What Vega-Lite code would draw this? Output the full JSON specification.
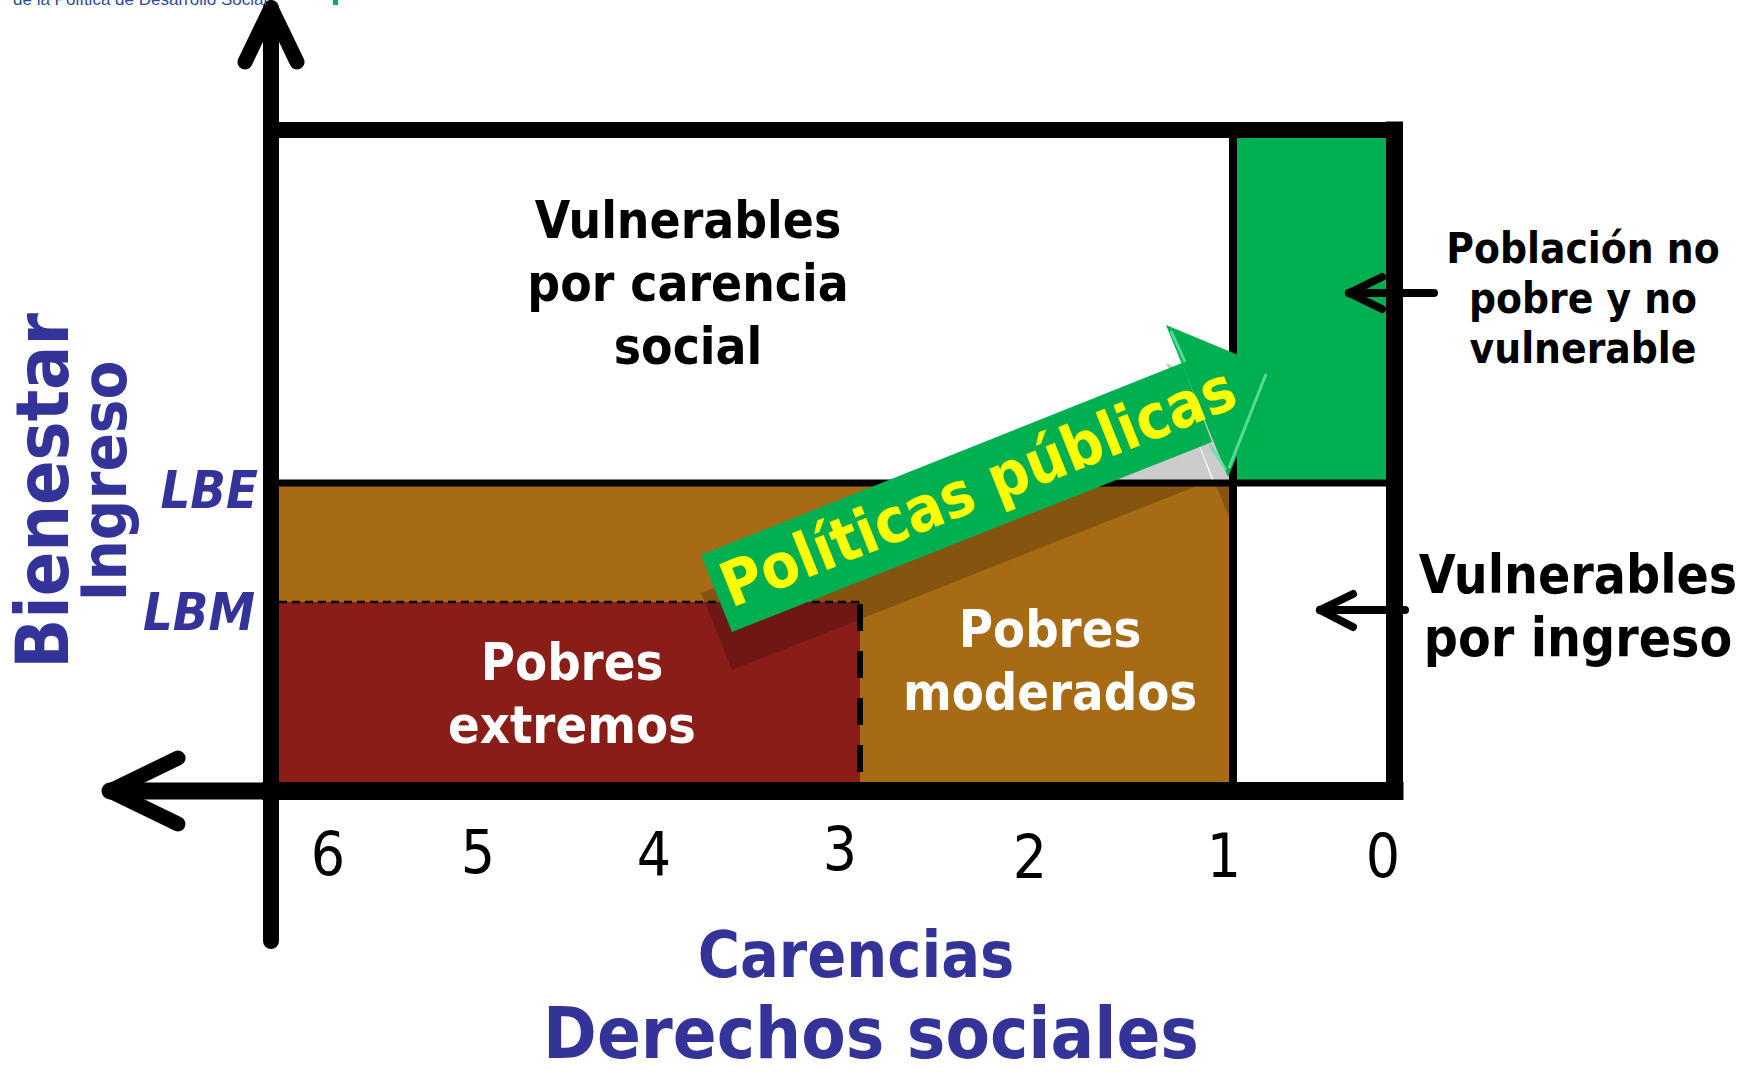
{
  "$schema": "https://vega.github.io/schema/vega-lite/v6.json",
  "width": 1757,
  "height": 1073,
  "autosize": {"type": "none"},
  "padding": 0,
  "background": "white",
  "config": {"view": {"stroke": null}},
  "encoding": {
    "x": {"field": "x", "type": "quantitative", "scale": {"domain": [0, 1757], "nice": false, "zero": false}, "axis": null},
    "y": {"field": "y", "type": "quantitative", "scale": {"domain": [0, 1073], "reverse": true, "nice": false, "zero": false}, "axis": null}
  },
  "layer": [
    {
      "data": {"values": [
        {"region": "Pobres moderados", "x": 271, "x2": 1233, "y": 483, "y2": 791, "fill": "#A76B15"},
        {"region": "Pobres extremos", "x": 271, "x2": 860, "y": 602, "y2": 791, "fill": "#8B1D19"}
      ]},
      "mark": {"type": "rect"},
      "encoding": {
        "x2": {"field": "x2"}, "y2": {"field": "y2"},
        "color": {"field": "fill", "type": "nominal", "scale": null}
      }
    },
    {
      "data": {"values": [
        {"part": "shaft", "x": 701, "y": 593, "y2": 593},
        {"part": "shaft", "x": 732, "y": 580.6, "y2": 670},
        {"part": "shaft", "x": 1182, "y": 401, "y2": 491.9},
        {"part": "shaft", "x": 1212, "y": 480, "y2": 480},
        {"part": "head", "x": 1166, "y": 363, "y2": 363},
        {"part": "head", "x": 1228, "y": 388.8, "y2": 515},
        {"part": "head", "x": 1274, "y": 408, "y2": 408}
      ]},
      "mark": {"type": "area", "color": "black", "opacity": 0.2},
      "encoding": {"y2": {"field": "y2"}, "detail": {"field": "part"}}
    },
    {
      "data": {"values": [
        {"region": "Población no pobre y no vulnerable", "x": 1233, "x2": 1394.5, "y": 130, "y2": 483, "fill": "#00B050"},
        {"region": "Vulnerables por ingreso", "x": 1233, "x2": 1394.5, "y": 483, "y2": 791, "fill": "#FFFFFF"}
      ]},
      "mark": {"type": "rect"},
      "encoding": {
        "x2": {"field": "x2"}, "y2": {"field": "y2"},
        "color": {"field": "fill", "type": "nominal", "scale": null}
      }
    },
    {
      "data": {"values": [
        {"seg": "top", "x": 271, "y": 130, "x2": 1394.5, "y2": 130, "w": 16},
        {"seg": "bottom", "x": 271, "y": 791, "x2": 1394.5, "y2": 791, "w": 18},
        {"seg": "right", "x": 1394.5, "y": 130, "x2": 1394.5, "y2": 791, "w": 17}
      ]},
      "mark": {"type": "rule", "color": "black", "strokeCap": "square"},
      "encoding": {
        "x2": {"field": "x2"}, "y2": {"field": "y2"},
        "strokeWidth": {"field": "w", "type": "quantitative", "scale": null}
      }
    },
    {
      "data": {"values": [
        {"seg": "divider", "x": 1233, "y": 130, "x2": 1233, "y2": 791, "w": 8},
        {"seg": "LBE", "x": 271, "y": 483, "x2": 1394.5, "y2": 483, "w": 7}
      ]},
      "mark": {"type": "rule", "color": "black", "strokeCap": "butt"},
      "encoding": {
        "x2": {"field": "x2"}, "y2": {"field": "y2"},
        "strokeWidth": {"field": "w", "type": "quantitative", "scale": null}
      }
    },
    {
      "data": {"values": [
        {"seg": "yaxis", "x": 271, "y": 8, "x2": 271, "y2": 941, "w": 16},
        {"seg": "ywing1", "x": 271, "y": 8, "x2": 245, "y2": 62, "w": 15},
        {"seg": "ywing2", "x": 271, "y": 8, "x2": 297, "y2": 62, "w": 15},
        {"seg": "xaxis", "x": 110, "y": 791, "x2": 271, "y2": 791, "w": 17},
        {"seg": "xwing1", "x": 110, "y": 791, "x2": 178, "y2": 758, "w": 15},
        {"seg": "xwing2", "x": 110, "y": 791, "x2": 178, "y2": 824, "w": 15},
        {"seg": "a1", "x": 1349, "y": 293, "x2": 1434, "y2": 293, "w": 8},
        {"seg": "a1w1", "x": 1349, "y": 293, "x2": 1382, "y2": 277, "w": 8},
        {"seg": "a1w2", "x": 1349, "y": 293, "x2": 1382, "y2": 309, "w": 8},
        {"seg": "a2", "x": 1320, "y": 610, "x2": 1405, "y2": 610, "w": 8},
        {"seg": "a2w1", "x": 1320, "y": 610, "x2": 1353, "y2": 594, "w": 8},
        {"seg": "a2w2", "x": 1320, "y": 610, "x2": 1353, "y2": 627, "w": 8}
      ]},
      "mark": {"type": "rule", "color": "black", "strokeCap": "round"},
      "encoding": {
        "x2": {"field": "x2"}, "y2": {"field": "y2"},
        "strokeWidth": {"field": "w", "type": "quantitative", "scale": null}
      }
    },
    {
      "data": {"values": [{"seg": "LBM", "x": 279, "y": 602, "x2": 860, "y2": 602}]},
      "mark": {"type": "rule", "color": "black", "strokeWidth": 2.5, "strokeDash": [8, 5]},
      "encoding": {"x2": {"field": "x2"}, "y2": {"field": "y2"}}
    },
    {
      "data": {"values": [{"seg": "3 carencias", "x": 860, "y": 604, "x2": 860, "y2": 782}]},
      "mark": {"type": "rule", "color": "black", "strokeWidth": 6, "strokeDash": [27, 20]},
      "encoding": {"x2": {"field": "x2"}, "y2": {"field": "y2"}}
    },
    {
      "data": {"values": [
        {"part": "shaft", "x": 701, "y": 555, "y2": 555},
        {"part": "shaft", "x": 732, "y": 542.6, "y2": 632},
        {"part": "shaft", "x": 1182, "y": 363, "y2": 453.9},
        {"part": "shaft", "x": 1212, "y": 442, "y2": 442},
        {"part": "head", "x": 1166, "y": 325, "y2": 325},
        {"part": "head", "x": 1228, "y": 350.8, "y2": 477},
        {"part": "head", "x": 1274, "y": 370, "y2": 370}
      ]},
      "mark": {"type": "area", "color": "#00B050", "opacity": 1},
      "encoding": {"y2": {"field": "y2"}, "detail": {"field": "part"}}
    },
    {
      "data": {"values": [
        {"seg": "bevel1", "x": 1171, "y": 331, "x2": 1185, "y2": 362},
        {"seg": "bevel2", "x": 1266, "y": 374, "x2": 1229, "y2": 468},
        {"seg": "bevel3", "x": 1210, "y": 445, "x2": 1226, "y2": 470}
      ]},
      "mark": {"type": "rule", "color": "#66E0A3", "strokeWidth": 3, "opacity": 0.85},
      "encoding": {"x2": {"field": "x2"}, "y2": {"field": "y2"}}
    },
    {
      "data": {"values": [{"label": "Políticas públicas", "x": 979, "y": 489}]},
      "mark": {"type": "text", "font": "DejaVu Sans Condensed", "fontWeight": "bold", "fontSize": 62, "color": "#FFFF00", "angle": 338.3, "align": "center", "baseline": "middle"},
      "encoding": {"text": {"field": "label"}}
    },
    {
      "data": {"values": [
        {"label": "Vulnerables\npor carencia\nsocial", "x": 688, "y": 238, "fs": 51, "c": "#000000"},
        {"label": "Pobres\nextremos", "x": 572, "y": 680, "fs": 52, "c": "#FFFFFF"},
        {"label": "Pobres\nmoderados", "x": 1050, "y": 647, "fs": 52, "c": "#FFFFFF"},
        {"label": "Vulnerables\npor ingreso", "x": 1578, "y": 593, "fs": 53, "c": "#000000"}
      ]},
      "mark": {"type": "text", "font": "DejaVu Sans Condensed", "fontWeight": "bold", "align": "center", "baseline": "alphabetic", "lineBreak": "\n", "lineHeight": 63},
      "encoding": {
        "text": {"field": "label"},
        "size": {"field": "fs", "type": "quantitative", "scale": null},
        "color": {"field": "c", "type": "nominal", "scale": null}
      }
    },
    {
      "data": {"values": [{"label": "Población no\npobre y no\nvulnerable", "x": 1583, "y": 263}]},
      "mark": {"type": "text", "font": "DejaVu Sans Condensed", "fontWeight": "bold", "fontSize": 42, "color": "black", "align": "center", "baseline": "alphabetic", "lineBreak": "\n", "lineHeight": 50},
      "encoding": {"text": {"field": "label"}}
    },
    {
      "data": {"values": [
        {"label": "LBE", "x": 258, "y": 508},
        {"label": "LBM", "x": 255, "y": 630}
      ]},
      "mark": {"type": "text", "font": "DejaVu Sans Condensed", "fontWeight": "bold", "fontStyle": "italic", "fontSize": 52, "color": "#333399", "align": "right", "baseline": "alphabetic"},
      "encoding": {"text": {"field": "label"}}
    },
    {
      "data": {"values": [
        {"label": "Bienestar", "x": 68, "y": 491, "fs": 73},
        {"label": "Ingreso", "x": 126, "y": 481, "fs": 63}
      ]},
      "mark": {"type": "text", "font": "DejaVu Sans Condensed", "fontWeight": "bold", "color": "#333399", "angle": 270, "align": "center", "baseline": "alphabetic"},
      "encoding": {
        "text": {"field": "label"},
        "size": {"field": "fs", "type": "quantitative", "scale": null}
      }
    },
    {
      "data": {"values": [
        {"label": "Carencias", "x": 856, "y": 977, "fs": 64},
        {"label": "Derechos sociales", "x": 871, "y": 1058, "fs": 72}
      ]},
      "mark": {"type": "text", "font": "DejaVu Sans Condensed", "fontWeight": "bold", "color": "#333399", "align": "center", "baseline": "alphabetic"},
      "encoding": {
        "text": {"field": "label"},
        "size": {"field": "fs", "type": "quantitative", "scale": null}
      }
    },
    {
      "data": {"values": [
        {"label": "6", "x": 328, "y": 875},
        {"label": "5", "x": 478, "y": 873},
        {"label": "4", "x": 654, "y": 875},
        {"label": "3", "x": 840, "y": 870},
        {"label": "2", "x": 1030, "y": 878},
        {"label": "1", "x": 1224, "y": 877},
        {"label": "0", "x": 1383, "y": 877}
      ]},
      "mark": {"type": "text", "font": "DejaVu Sans Condensed", "fontSize": 60, "color": "black", "align": "center", "baseline": "alphabetic"},
      "encoding": {"text": {"field": "label"}}
    },
    {
      "data": {"values": [{"label": "de la Política de Desarrollo Social", "x": 13, "y": 5}]},
      "mark": {"type": "text", "font": "Liberation Sans", "fontSize": 17, "color": "#2E4C9A", "align": "left", "baseline": "alphabetic"},
      "encoding": {"text": {"field": "label"}}
    },
    {
      "data": {"values": [{"mark": "logo", "x": 333, "x2": 338, "y": 0, "y2": 5}]},
      "mark": {"type": "rect", "color": "#00B050"},
      "encoding": {"x2": {"field": "x2"}, "y2": {"field": "y2"}}
    }
  ]
}
